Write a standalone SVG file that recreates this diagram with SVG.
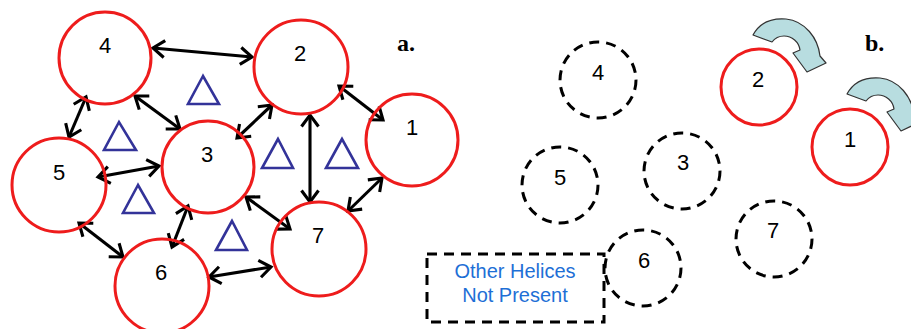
<svg xmlns="http://www.w3.org/2000/svg" xmlns:xlink="http://www.w3.org/1999/xlink" width="911" height="329" viewBox="0 0 911 329">
  <style>
    .helix { fill: none; stroke: #ee1c1c; stroke-width: 3; }
    .absent { fill: none; stroke: #000; stroke-width: 3; stroke-dasharray: 10 7; }
    .num { font-family: "Liberation Sans", Arial, sans-serif; font-size: 22px; fill: #000; text-anchor: middle; }
    .link { stroke: #000; stroke-width: 3.1; marker-start: url(#chev); marker-end: url(#chev); }
    .tri { fill: none; stroke: #333399; stroke-width: 2.6; stroke-linejoin: miter; }
    .panel { font-family: "Liberation Serif", "Times New Roman", serif; font-weight: bold; font-size: 24px; fill: #000; }
    .legend { font-family: "Liberation Sans", Arial, sans-serif; font-size: 20px; fill: #1e6fd6; text-anchor: middle; }
    .turn { fill: #b8dde0; stroke: #333; stroke-width: 1.2; stroke-linejoin: round; }
  </style>
  <defs>
    <marker id="chev" viewBox="-16 -12 19 24" refX="0" refY="0" markerWidth="19" markerHeight="24" markerUnits="userSpaceOnUse" orient="auto-start-reverse">
      <path d="M -11.5,-8.5 L 0,0 L -11.5,8.5" fill="none" stroke="#000" stroke-width="3.1" stroke-linejoin="miter"/>
    </marker>
    <path id="turnArrow" class="turn" d="M 753,35 C 760,22 773,18 786,19 C 805,21 818,38 820,56 L 826,63 L 807,72 L 793,53 L 800,50 C 799,42 792,36 784,36 C 779,36 775,38 772,42 Z"/>
  </defs>

  <!-- panel a: interaction network -->
  <g id="connectors">
    <line class="link" x1="153" y1="48" x2="252" y2="57"/>
    <line class="link" x1="339" y1="86" x2="383" y2="120"/>
    <line class="link" x1="135" y1="96" x2="180" y2="129"/>
    <line class="link" x1="272" y1="105" x2="237" y2="138"/>
    <line class="link" x1="86" y1="97" x2="69" y2="137"/>
    <line class="link" x1="98" y1="177" x2="159" y2="166"/>
    <line class="link" x1="310" y1="115" x2="310" y2="202"/>
    <line class="link" x1="382" y1="178" x2="348" y2="211"/>
    <line class="link" x1="246" y1="197" x2="290" y2="229"/>
    <line class="link" x1="188" y1="206" x2="172" y2="247"/>
    <line class="link" x1="79" y1="223" x2="123" y2="257"/>
    <line class="link" x1="209" y1="277" x2="271" y2="267"/>
  </g>

  <g id="a-helix-4"><circle class="helix" cx="105" cy="58" r="46"/><text class="num" x="105" y="53">4</text></g>
  <g id="a-helix-2"><circle class="helix" cx="301" cy="67" r="47"/><text class="num" x="300" y="61">2</text></g>
  <g id="a-helix-1"><circle class="helix" cx="412" cy="140" r="46"/><text class="num" x="412" y="135">1</text></g>
  <g id="a-helix-3"><circle class="helix" cx="208" cy="167" r="46"/><text class="num" x="207" y="162">3</text></g>
  <g id="a-helix-5"><circle class="helix" cx="59" cy="185" r="47"/><text class="num" x="59" y="180">5</text></g>
  <g id="a-helix-7"><circle class="helix" cx="319" cy="249" r="47"/><text class="num" x="318" y="243">7</text></g>
  <g id="a-helix-6"><circle class="helix" cx="162" cy="286" r="47"/><text class="num" x="161" y="280">6</text></g>

  <g id="a-triangles">
    <polygon class="tri" points="203,76 188,104 219,104"/>
    <polygon class="tri" points="119,122 104,150 136,150"/>
    <polygon class="tri" points="138,185 123,213 154,213"/>
    <polygon class="tri" points="278,139 262,168 293,168"/>
    <polygon class="tri" points="342,139 326,168 358,168"/>
    <polygon class="tri" points="232,221 216,250 247,250"/>
  </g>

  <text class="panel" x="397" y="51">a.</text>

  <!-- panel b: helices 1 and 2 alone -->
  <g id="b-helix-4"><circle class="absent" cx="598" cy="80" r="38"/><text class="num" x="598" y="80">4</text></g>
  <g id="b-helix-5"><circle class="absent" cx="560" cy="185" r="38"/><text class="num" x="560" y="185">5</text></g>
  <g id="b-helix-3"><circle class="absent" cx="682" cy="171" r="38"/><text class="num" x="683" y="170">3</text></g>
  <g id="b-helix-7"><circle class="absent" cx="774" cy="239" r="38"/><text class="num" x="773" y="238">7</text></g>
  <g id="b-helix-6"><circle class="absent" cx="643" cy="268" r="38"/><text class="num" x="644" y="268">6</text></g>
  <g id="b-helix-2"><circle class="helix" cx="759" cy="87" r="38"/><text class="num" x="758" y="87">2</text></g>
  <g id="b-helix-1"><circle class="helix" cx="850" cy="147" r="38"/><text class="num" x="850" y="147">1</text></g>

  <g id="b-rotations">
    <use xlink:href="#turnArrow"/>
    <use xlink:href="#turnArrow" transform="translate(94,59)"/>
  </g>

  <g id="legend">
    <rect class="absent" x="427" y="254" width="177" height="68"/>
    <text class="legend" x="515" y="278">Other Helices</text>
    <text class="legend" x="515" y="302">Not Present</text>
  </g>

  <text class="panel" x="865" y="51">b.</text>
</svg>
